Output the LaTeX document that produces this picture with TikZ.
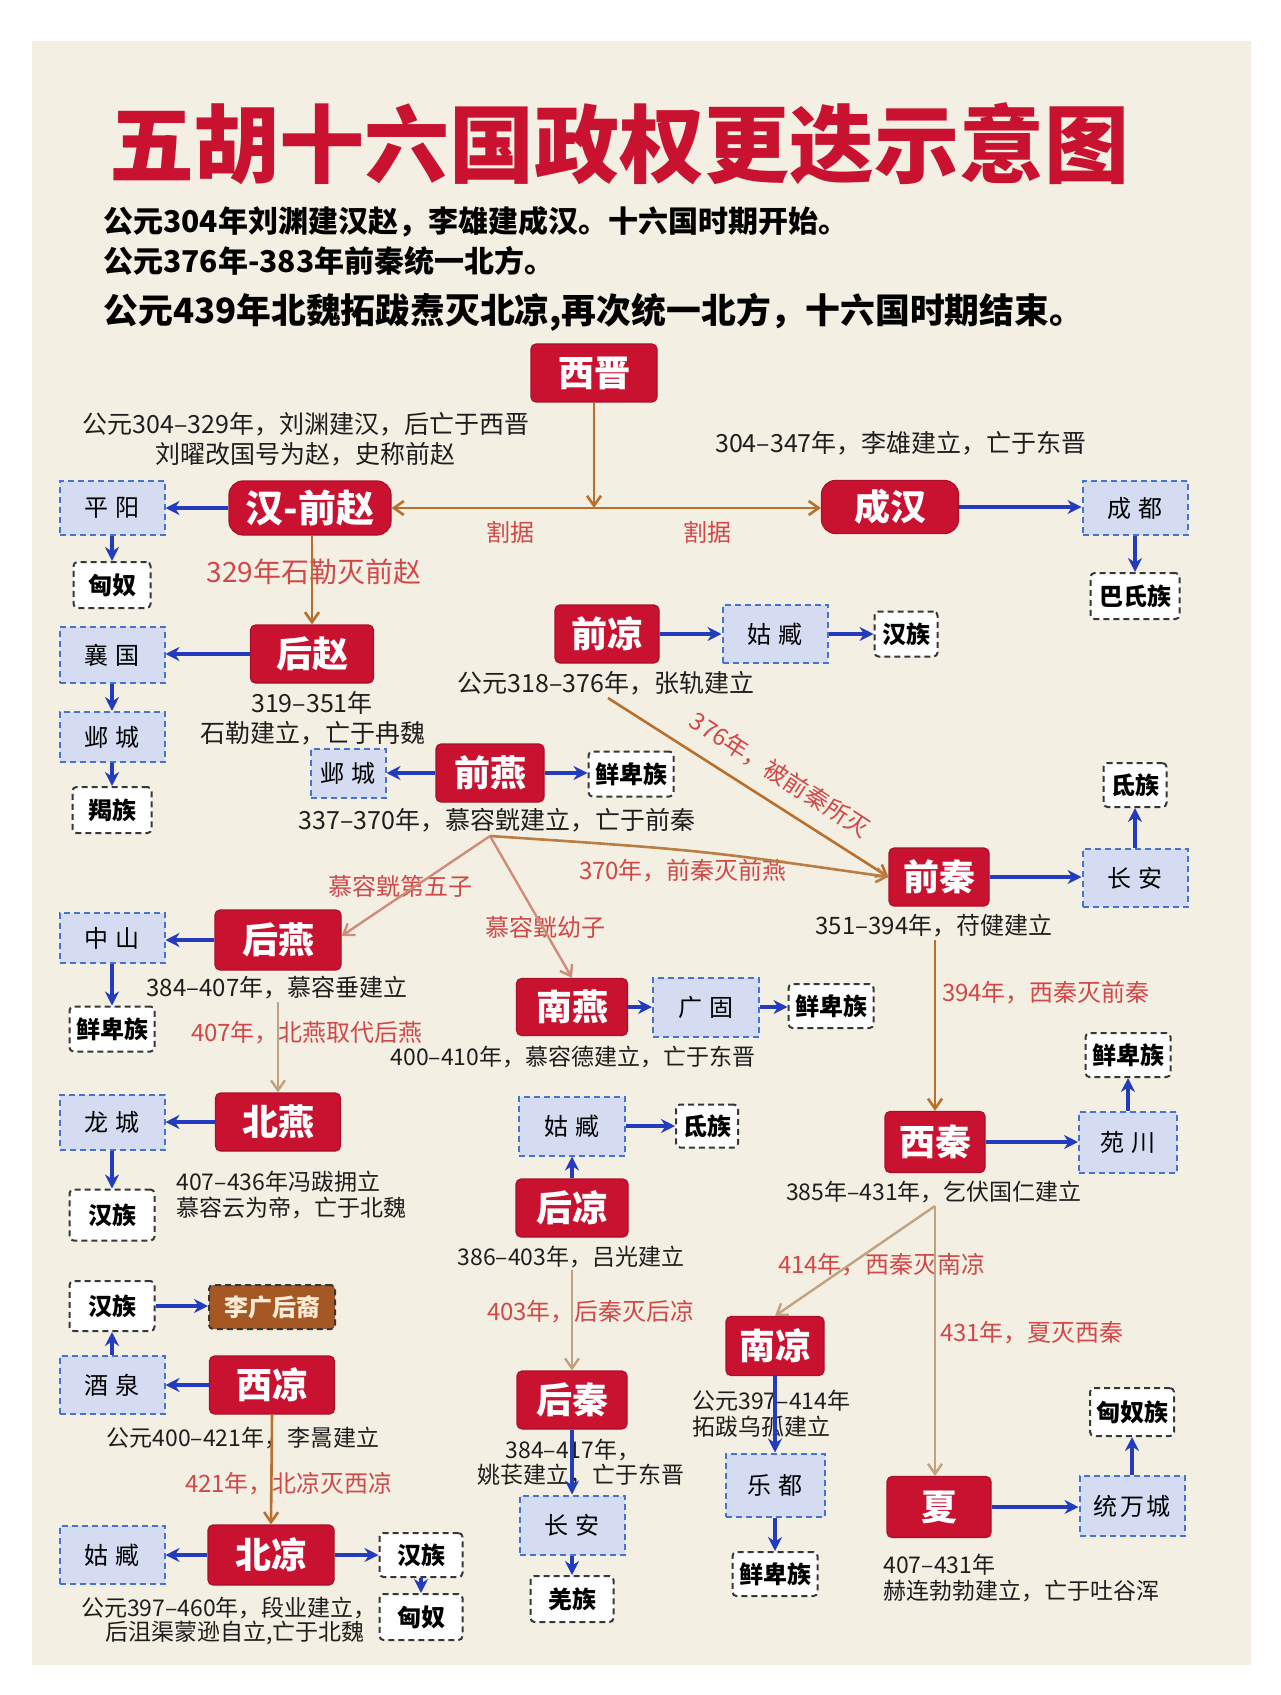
\documentclass[tikz,border=0pt]{standalone}
\usepackage{fontspec}
\setmainfont{Noto Sans CJK SC}
\usetikzlibrary{arrows.meta}
\definecolor{bgc}{RGB}{243,240,227}
\definecolor{cnred}{RGB}{200,18,48}
\definecolor{lblred}{RGB}{208,72,72}
\definecolor{bluefill}{RGB}{213,220,242}
\definecolor{blueline}{RGB}{70,115,205}
\definecolor{arrowblue}{RGB}{35,60,190}
\definecolor{brownline}{RGB}{185,112,45}
\definecolor{tanline}{RGB}{192,162,128}
\definecolor{pinkline}{RGB}{208,140,122}
\definecolor{lgbrown}{RGB}{165,88,35}
\definecolor{lgtext}{RGB}{252,236,215}
\definecolor{dashgray}{RGB}{55,55,55}
\definecolor{notec}{RGB}{30,30,30}
\newcommand\fsz[1]{\fontsize{#1}{#1}\selectfont}
\newcommand\kgap{\hspace{0.28em}}
\begin{document}
\begin{tikzpicture}[x=0.5pt,y=-0.5pt,
  sz/.style 2 args={minimum width=#1*0.5pt, minimum height=#2*0.5pt},
  redbox/.style={draw=cnred!85!black, line width=0.6pt, fill=cnred, rounded corners=2.5pt, text=white, font=\fsz{18pt}\bfseries, inner sep=0pt},
  redround/.style={redbox, rounded corners=7pt},
  bluebox/.style={draw=blueline, line width=1pt, dash pattern=on 3pt off 2pt, fill=bluefill, font=\fsz{12pt}, text=black, inner sep=0pt},
  whitebox/.style={draw=dashgray, line width=1pt, dash pattern=on 3pt off 2pt, fill=white, rounded corners=2pt, font=\fsz{12pt}\bfseries, text=black, inner sep=0pt},
  lgbox/.style={draw=dashgray, line width=1pt, dash pattern=on 3pt off 2pt, fill=lgbrown, rounded corners=2pt, font=\fsz{12pt}\bfseries, text=lgtext, inner sep=0pt},
  note/.style={font=\fsz{12.5pt}, text=notec, inner sep=0pt},
  notes/.style={font=\fsz{11.5pt}, text=notec, inner sep=0pt},
  rednote/.style={font=\fsz{12pt}, text=lblred, inner sep=0pt},
  barrow/.style={draw=arrowblue, line width=1.8pt, -{Stealth[length=7pt,width=7pt]}},
  brarrow/.style={draw=brownline, line width=1.3pt, -{Straight Barb[length=5pt,width=7pt]}},
  tanarrow/.style={draw=tanline, line width=1.2pt, -{Straight Barb[length=5pt,width=7pt]}},
  pinkarrow/.style={draw=pinkline, line width=1.2pt, -{Straight Barb[length=5pt,width=7pt]}}
]
\useasboundingbox (0,0) rectangle (1280,1695);
\fill[white] (0,0) rectangle (1280,1695);
\fill[bgc] (32,41) rectangle (1251,1665);

% title and intro
\node[font=\fsz{42.5pt}\bfseries, text=cnred, inner sep=0pt] (title) at (619,144) {五胡十六国政权更迭示意图};
\node[anchor=west, font=\fsz{15pt}\bfseries, inner sep=0pt] (l1) at (103,222) {公元304年刘渊建汉赵，李雄建成汉。十六国时期开始。};
\node[anchor=west, font=\fsz{15pt}\bfseries, inner sep=0pt] (l2) at (103,261) {公元376年-383年前秦统一北方。};
\node[anchor=west, font=\fsz{17.4pt}\bfseries, inner sep=0pt] (l3) at (103,312) {公元439年北魏拓跋焘灭北凉,再次统一北方，十六国时期结束。};

% red state boxes
\node[redbox, sz={126}{58}] (xj) at (594,373) {西晋};
\node[redround, sz={162}{54}, font=\fsz{19pt}\bfseries] (hz) at (310,508) {汉-前赵};
\node[redround, sz={137}{53}] (ch) at (890,507) {成汉};
\node[redbox, sz={123}{58}] (hz2) at (312,654) {后赵};
\node[redbox, sz={104}{58}] (ql) at (607,634) {前凉};
\node[redbox, sz={108}{58}] (qy) at (490,773) {前燕};
\node[redbox, sz={100}{58}] (qq) at (939,877) {前秦};
\node[redbox, sz={126}{60}] (hy) at (278,940) {后燕};
\node[redbox, sz={125}{58}] (by) at (278,1122) {北燕};
\node[redbox, sz={111}{57}] (ny) at (572,1007) {南燕};
\node[redbox, sz={112}{58}] (hl) at (572,1208) {后凉};
\node[redbox, sz={110}{58}] (hq) at (572,1400) {后秦};
\node[redbox, sz={100}{61}] (xq) at (935,1142) {西秦};
\node[redbox, sz={98}{59}] (nl) at (775,1346) {南凉};
\node[redbox, sz={104}{61}] (xia) at (939,1507) {夏};
\node[redbox, sz={125}{58}] (xl) at (272,1385) {西凉};
\node[redbox, sz={126}{60}] (bl) at (271,1555) {北凉};

% capitals (blue)
\node[bluebox, sz={105}{54}] (py) at (112,508) {平\kgap{}阳};
\node[bluebox, sz={105}{54}] (cd) at (1135,508) {成\kgap{}都};
\node[bluebox, sz={105}{56}] (xg) at (112,655) {襄\kgap{}国};
\node[bluebox, sz={105}{50}] (yc1) at (112,737) {邺\kgap{}城};
\node[bluebox, sz={105}{58}] (gz1) at (775,634) {姑\kgap{}臧};
\node[bluebox, sz={75}{49}] (yc2) at (348,773) {邺\kgap{}城};
\node[bluebox, sz={105}{58}] (ca1) at (1135,878) {长\kgap{}安};
\node[bluebox, sz={105}{50}] (zs) at (112,938) {中\kgap{}山};
\node[bluebox, sz={105}{55}] (lc) at (112,1122) {龙\kgap{}城};
\node[bluebox, sz={106}{59}] (gg) at (706,1007) {广\kgap{}固};
\node[bluebox, sz={106}{59}] (gz2) at (572,1126) {姑\kgap{}臧};
\node[bluebox, sz={105}{59}] (ca2) at (572,1525) {长\kgap{}安};
\node[bluebox, sz={98}{61}] (yc3) at (1128,1142) {苑\kgap{}川};
\node[bluebox, sz={99}{63}] (ld) at (775,1485) {乐\kgap{}都};
\node[bluebox, sz={105}{60}] (twc) at (1132,1506) {统\hspace{0.1em}万\hspace{0.1em}城};
\node[bluebox, sz={105}{58}] (jq) at (112,1385) {酒\kgap{}泉};
\node[bluebox, sz={105}{58}] (gz3) at (112,1555) {姑\kgap{}臧};

% peoples (white)
\node[whitebox, sz={77}{46}] (xn1) at (112,585) {匈奴};
\node[whitebox, sz={89}{46}] (bs) at (1135,596) {巴氏族};
\node[whitebox, sz={79}{46}] (jz) at (112,810) {羯族};
\node[whitebox, sz={63}{45}] (hzu1) at (906,634) {汉族};
\node[whitebox, sz={85}{45}] (xb1) at (631,774) {鲜卑族};
\node[whitebox, sz={63}{44}] (dz1) at (1135,785) {氐族};
\node[whitebox, sz={85}{45}] (xb2) at (112,1029) {鲜卑族};
\node[whitebox, sz={85}{51}] (hzu2) at (112,1215) {汉族};
\node[whitebox, sz={85}{44}] (xb3) at (831,1006) {鲜卑族};
\node[whitebox, sz={62}{43}] (dz2) at (707,1126) {氐族};
\node[whitebox, sz={83}{46}] (qz) at (572,1599) {羌族};
\node[whitebox, sz={85}{44}] (xb4) at (1128,1055) {鲜卑族};
\node[whitebox, sz={85}{44}] (xb5) at (775,1574) {鲜卑族};
\node[whitebox, sz={84}{48}] (xnz) at (1132,1412) {匈奴族};
\node[whitebox, sz={85}{50}] (hzu3) at (112,1306) {汉族};
\node[lgbox, sz={126}{44}] (lg) at (272,1307) {李广后裔};
\node[whitebox, sz={83}{44}] (hzu4) at (421,1555) {汉族};
\node[whitebox, sz={83}{46}] (xn2) at (421,1617) {匈奴};

% notes
\node[note] (n1a) at (306,424) {公元304–329年，刘渊建汉，后亡于西晋};
\node[note] (n1b) at (305,454) {刘曜改国号为赵，史称前赵};
\node[note] (n2) at (901,443) {304–347年，李雄建立，亡于东晋};
\node[rednote] (gj1) at (510,532) {割据};
\node[rednote] (gj2) at (707,532) {割据};
\node[rednote, font=\fsz{14pt}] (n3) at (314,572) {329年石勒灭前赵};
\node[note] (n4a) at (312,703) {319–351年};
\node[note] (n4b) at (313,733) {石勒建立，亡于冉魏};
\node[note] (n5) at (606,683) {公元318–376年，张轨建立};
\node[note] (n6) at (497,820) {337–370年，慕容皝建立，亡于前秦};
\node[rednote, rotate=-33] (n7) at (780,775) {376年，被前秦所灭};
\node[rednote] (n8) at (683,871) {370年，前秦灭前燕};
\node[rednote] (n9) at (400,886) {慕容皝第五子};
\node[rednote] (n10) at (545,927) {慕容皝幼子};
\node[note, font=\fsz{12pt}] (n11) at (934,926) {351–394年，苻健建立};
\node[note, font=\fsz{12pt}] (n12) at (277,988) {384–407年，慕容垂建立};
\node[rednote] (n13) at (307,1033) {407年，北燕取代后燕};
\node[notes] (n14) at (573,1057) {400–410年，慕容德建立，亡于东晋};
\node[rednote] (n15) at (1046,993) {394年，西秦灭前秦};
\node[notes, anchor=west] (n16a) at (176,1182) {407–436年冯跋拥立};
\node[notes, anchor=west] (n16b) at (176,1208) {慕容云为帝，亡于北魏};
\node[notes] (n17) at (934,1192) {385年–431年，乞伏国仁建立};
\node[notes] (n18) at (571,1257) {386–403年，吕光建立};
\node[rednote] (n19) at (882,1265) {414年，西秦灭南凉};
\node[rednote] (n20) at (591,1312) {403年，后秦灭后凉};
\node[rednote] (n21) at (1032,1333) {431年，夏灭西秦};
\node[notes, anchor=west] (n22a) at (692,1401) {公元397–414年};
\node[notes, anchor=west] (n22b) at (692,1427) {拓跋乌孤建立};
\node[notes] (n23a) at (573,1450) {384–417年，};
\node[notes] (n23b) at (581,1475) {姚苌建立，亡于东晋};
\node[notes] (n24) at (243,1438) {公元400–421年，李暠建立};
\node[rednote] (n25) at (289,1484) {421年，北凉灭西凉};
\node[notes, anchor=west] (n26a) at (883,1565) {407–431年};
\node[notes, anchor=west] (n26b) at (883,1591) {赫连勃勃建立，亡于吐谷浑};
\node[notes] (n27a) at (229,1608) {公元397–460年，段业建立，};
\node[notes] (n27b) at (235,1633) {后沮渠蒙逊自立,亡于北魏};

% free ends of succession lines
\coordinate (J) at (594,508);
\coordinate (qlS) at (608,698);
\coordinate (qyS) at (490,836);
\coordinate (qqS) at (935,940);
\coordinate (hyS) at (278,1002);
\coordinate (hlS) at (572,1270);
\coordinate (xqS) at (935,1206);

% succession lines
\draw[brarrow] (xj.south) -- (J);
\draw[brarrow, {Straight Barb[length=5pt,width=7pt]}-{Straight Barb[length=5pt,width=7pt]}] (hz.east) -- (hz.east -| ch.west);
\draw[brarrow] (hz2.north |- hz.south) -- (hz2.north);
\draw[brarrow] (qlS) -- (qq.west);
\draw[pinkarrow] (qyS) -- ([yshift=2pt]hy.east);
\draw[pinkarrow] (qyS) -- (ny.north);
\draw[brarrow, draw=brownline!75!tanline] (qyS) .. controls (700,850) .. (qq.west);
\draw[brarrow] (qqS) -- (qqS |- xq.north);
\draw[tanarrow] (hyS) -- (by.north);
\draw[tanarrow] (hlS) -- (hq.north);
\draw[tanarrow] (xqS) -- (nl.north);
\draw[tanarrow] (xqS) -- (xqS |- xia.north);
\draw[brarrow] (xl.south) -- (bl.north);

% capital / people arrows
\draw[barrow] (hz.west) -- (hz.west -| py.east);
\draw[barrow] (py.south) -- (py.south |- xn1.north);
\draw[barrow] (ch.east) -- (ch.east -| cd.west);
\draw[barrow] (cd.south) -- (cd.south |- bs.north);
\draw[barrow] (hz2.west) -- (hz2.west -| xg.east);
\draw[barrow] (xg.south) -- (yc1.north);
\draw[barrow] (yc1.south) -- (jz.north);
\draw[barrow] (ql.east) -- (ql.east -| gz1.west);
\draw[barrow] (gz1.east) -- (gz1.east -| hzu1.west);
\draw[barrow] (qy.west) -- (qy.west -| yc2.east);
\draw[barrow] (qy.east) -- (qy.east -| xb1.west);
\draw[barrow] (qq.east) -- (qq.east -| ca1.west);
\draw[barrow] (ca1.north) -- (dz1.south);
\draw[barrow] (hy.west) -- (hy.west -| zs.east);
\draw[barrow] (zs.south) -- (xb2.north);
\draw[barrow] (by.west) -- (by.west -| lc.east);
\draw[barrow] (lc.south) -- (hzu2.north);
\draw[barrow] (ny.east) -- (ny.east -| gg.west);
\draw[barrow] (gg.east) -- (gg.east -| xb3.west);
\draw[barrow] (hl.north) -- (gz2.south);
\draw[barrow] (gz2.east) -- (gz2.east -| dz2.west);
\draw[barrow] (hq.south) -- (ca2.north);
\draw[barrow] (ca2.south) -- (qz.north);
\draw[barrow] (xq.east) -- (xq.east -| yc3.west);
\draw[barrow] (yc3.north) -- (xb4.south);
\draw[barrow] (nl.south) -- (ld.north);
\draw[barrow] (ld.south) -- (xb5.north);
\draw[barrow] (xia.east) -- (xia.east -| twc.west);
\draw[barrow] (twc.north) -- (xnz.south);
\draw[barrow] (xl.west) -- (xl.west -| jq.east);
\draw[barrow] (jq.north) -- (hzu3.south);
\draw[barrow] (hzu3.east) -- (hzu3.east -| lg.west);
\draw[barrow] (bl.west) -- (bl.west -| gz3.east);
\draw[barrow] (bl.east) -- (bl.east -| hzu4.west);
\draw[barrow] (hzu4.south) -- (xn2.north);
\end{tikzpicture}
\end{document}
